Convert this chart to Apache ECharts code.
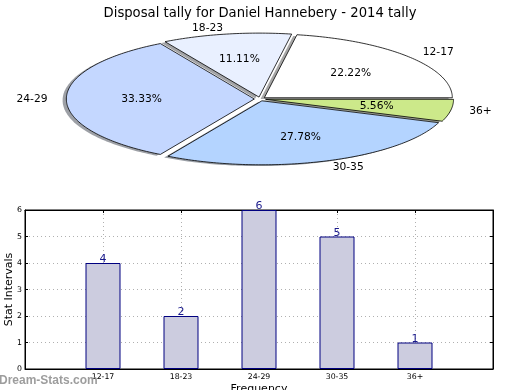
<!DOCTYPE html>
<html>
<head>
<meta charset="utf-8">
<script src="https://cdn.jsdelivr.net/npm/echarts@6/dist/echarts.min.js"></script>
<style>
html,body{margin:0;padding:0;background:#fff;}
#chart{width:520px;height:390px;}
</style>
</head>
<body>
<div id="chart"></div>
<script>
// ---- data ----
const titleText = 'Disposal tally for Daniel Hannebery - 2014 tally';
const categories = ['12-17', '18-23', '24-29', '30-35', '36+'];
const counts = [4, 2, 6, 5, 1];
const yTicks = [0, 1, 2, 3, 4, 5, 6];

// ---- styles ----
const FONT = 'DejaVu Sans';
const sliceColors = ['#ffffff', '#e9f0ff', '#c4d7ff', '#b4d4ff', '#cce98a'];
const PIE = { cx: 260, cy: 99, rx: 188, ry: 64, explode: 0.03 };

const total = counts.reduce((a, b) => a + b, 0);
const starts = [];
{ let acc = 0; counts.forEach(v => { starts.push(acc); acc += v; }); }

function arcPoints(ox, oy, a0, a1) {
  const pts = [[ox, oy]];
  const n = Math.max(8, Math.ceil((a1 - a0) / (Math.PI / 180)));
  for (let k = 0; k <= n; k++) {
    const a = a0 + (a1 - a0) * k / n;
    pts.push([ox + PIE.rx * Math.cos(a), oy - PIE.ry * Math.sin(a)]);
  }
  return pts;
}
function hexToShadow(hex) {
  const r = parseInt(hex.slice(1, 3), 16), g = parseInt(hex.slice(3, 5), 16), b = parseInt(hex.slice(5, 7), 16);
  return 'rgba(' + Math.round(r * 0.3) + ',' + Math.round(g * 0.3) + ',' + Math.round(b * 0.3) + ',0.5)';
}

function renderPie(params, api) {
  const i = params.dataIndex;
  const v = api.value(1);
  const a0 = starts[i] / total * 2 * Math.PI;
  const a1 = (starts[i] + v) / total * 2 * Math.PI;
  const am = (a0 + a1) / 2;
  const ox = PIE.cx + PIE.explode * PIE.rx * Math.cos(am);
  const oy = PIE.cy - PIE.explode * PIE.ry * Math.sin(am);
  const pts = arcPoints(ox, oy, a0, a1);
  const shadowPts = pts.map(p => [p[0] - 0.02 * PIE.rx, p[1] + 0.02 * PIE.ry]);
  const lx = ox + 1.1 * PIE.rx * Math.cos(am);
  const ly = oy - 1.1 * PIE.ry * Math.sin(am);
  const px = ox + 0.6 * PIE.rx * Math.cos(am);
  const py = oy - 0.6 * PIE.ry * Math.sin(am);
  const pct = (v / total * 100).toFixed(2) + '%';
  return {
    type: 'group',
    children: [
      { type: 'polygon', z2: 1, shape: { points: shadowPts }, style: { fill: hexToShadow(sliceColors[i]), stroke: null } },
      { type: 'polygon', z2: 10, shape: { points: pts }, style: { fill: sliceColors[i], stroke: '#000', lineWidth: 0.8 } },
      { type: 'text', z2: 20, style: { text: categories[i], x: lx, y: ly, font: '10.7px "' + FONT + '"', fill: '#000',
          align: Math.cos(am) >= 0 ? 'left' : 'right', verticalAlign: 'middle' } },
      { type: 'text', z2: 20, style: { text: pct, x: px, y: py, font: '10.7px "' + FONT + '"', fill: '#000',
          align: 'center', verticalAlign: 'middle' } }
    ]
  };
}

const chart = echarts.init(document.getElementById('chart'), null, { renderer: 'canvas' });
const gridLine = { show: true, lineStyle: { color: '#b0b0b0', type: [1, 3], width: 1 } };
const edgeAxisLine = { show: true, onZero: false, lineStyle: { color: '#000' } };
chart.setOption({
  animation: false,
  backgroundColor: '#fff',
  title: {
    text: titleText, left: 'center', top: 2,
    textStyle: { fontFamily: FONT, fontSize: 13.2, fontWeight: 'normal', color: '#000' }
  },
  graphic: [{
    type: 'text', left: -1, top: 375, z: 100,
    style: { text: 'Dream-Stats.com', font: 'bold 12px "Liberation Sans"', fill: 'rgba(140,140,140,0.85)' }
  }],
  grid: { left: 25, right: 27, top: 210, bottom: 21, show: true, borderColor: '#000', borderWidth: 1,
    containLabel: false, outerBoundsMode: 'none' },
  xAxis: [{
    type: 'value', min: -1, max: 5, interval: 1,
    name: 'Frequency', nameLocation: 'middle', nameGap: 15, nameMoveOverlap: false,
    nameTextStyle: { fontFamily: FONT, fontSize: 11, color: '#000' },
    axisLine: edgeAxisLine,
    axisTick: { show: true, inside: true, length: 3, lineStyle: { color: '#000' } },
    axisLabel: { fontFamily: FONT, fontSize: 7.8, color: '#000', margin: 4,
      formatter: v => (categories[v] !== undefined ? categories[v] : '') },
    splitLine: gridLine
  }, {
    type: 'value', min: -1, max: 5, interval: 1, position: 'top',
    axisLine: edgeAxisLine,
    axisTick: { show: true, inside: true, length: 3, lineStyle: { color: '#000' } },
    axisLabel: { show: false }, splitLine: { show: false }
  }],
  yAxis: [{
    type: 'value', min: yTicks[0], max: yTicks[yTicks.length - 1], interval: 1,
    name: 'Stat Intervals', nameLocation: 'middle', nameGap: 10, nameMoveOverlap: false,
    nameTextStyle: { fontFamily: FONT, fontSize: 11, color: '#000' },
    axisLine: edgeAxisLine,
    axisTick: { show: true, inside: true, length: 3, lineStyle: { color: '#000' } },
    axisLabel: { fontFamily: FONT, fontSize: 7.8, color: '#000', margin: 3 },
    splitLine: gridLine
  }, {
    type: 'value', min: yTicks[0], max: yTicks[yTicks.length - 1], interval: 1, position: 'right',
    axisLine: edgeAxisLine,
    axisTick: { show: true, inside: true, length: 3, lineStyle: { color: '#000' } },
    axisLabel: { show: false }, splitLine: { show: false }
  }],
  series: [{
    type: 'bar',
    xAxisIndex: 0, yAxisIndex: 0,
    data: categories.map((c, i) => [i, counts[i]]),
    barWidth: 35,
    itemStyle: { color: '#ccccdf', borderColor: '#000080', borderWidth: 1 },
    label: { show: true, position: 'top', distance: -2, color: '#1a1a8c', fontFamily: FONT, fontSize: 11,
      formatter: p => String(p.value[1]) },
    z: 3
  }, {
    type: 'custom',
    coordinateSystem: 'none',
    data: categories.map((c, i) => [i, counts[i]]),
    renderItem: renderPie,
    silent: true
  }]
});
</script>
</body>
</html>
